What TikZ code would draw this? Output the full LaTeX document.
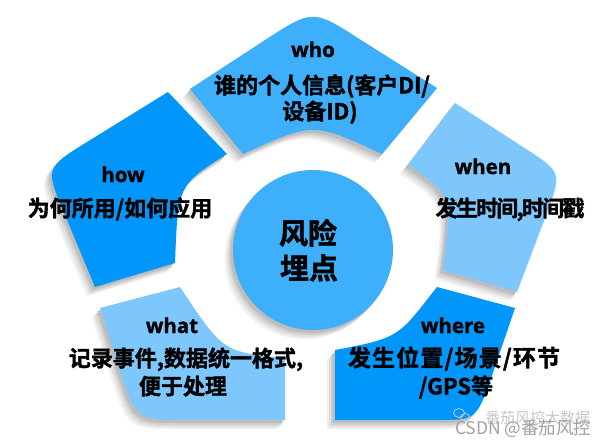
\documentclass[tikz,border=0pt]{standalone}
\usepackage{fontspec}
\setmainfont{Noto Sans CJK SC}[BoldFont={Noto Sans CJK SC Bold},BoldFeatures={FakeBold=1.6}]
\newfontfamily\titlefont{Open Sans}[BoldFont={Open Sans Bold},BoldFeatures={FakeBold=1.2}]
\definecolor{midblue}{HTML}{3DAFFB}
\definecolor{deepblue}{HTML}{0096FA}
\definecolor{paleblue}{HTML}{7EC7FC}
\definecolor{markgrey}{HTML}{A0A0A0}
\definecolor{marklight}{HTML}{C8C8C8}
\newcommand\whoshape[1]{\fill[#1] (243,154) -- (190,89) -- (265,40) .. controls (313,9) .. (361,40)
  -- (437,88) -- (382,154) .. controls (313,122) .. (243,154) -- cycle;}
\newcommand\howshape[1]{\fill[#1] (168,92) -- (87,142) .. controls (45,168) .. (65,215) -- (95,287)
  -- (175,263) .. controls (178,185) .. (227,154) -- cycle;}
\newcommand\whenshape[1]{\fill[#1] (455,103) -- (523,147) .. controls (562,172) .. (547,213) -- (517,292)
  -- (443,270) .. controls (452,195) .. (408,165) -- cycle;}
\newcommand\whatshape[1]{\fill[#1] (100,308) -- (180,287) .. controls (223,352) .. (285,358) -- (285,420)
  -- (185,420) .. controls (136,420) .. (118,365) -- cycle;}
\newcommand\whereshape[1]{\fill[#1] (437,287) -- (515,308) -- (495.6,365) .. controls (477,420) .. (440,420)
  -- (335,420) -- (335,350) .. controls (398,338) .. (437,287) -- cycle;}
\newcommand\coreshape[1]{\fill[#1] (313,250) circle[radius=80];}
\newcommand\shadowpass[2]{%
  \whoshape{#1,shift={#2}}\howshape{#1,shift={#2}}\whenshape{#1,shift={#2}}%
  \whatshape{#1,shift={#2}}\whereshape{#1,shift={#2}}\coreshape{#1,shift={#2}}}
\begin{document}
\begin{tikzpicture}[x=1pt,y=-1pt,
  ttl/.style={anchor=base,inner sep=0pt,font=\titlefont\bfseries\fontsize{20.5}{24}\selectfont},
  lbl/.style={anchor=base,inner sep=0pt,font=\bfseries\fontsize{22}{26}\selectfont},
  big/.style={anchor=base,inner sep=0pt,font=\bfseries\fontsize{29}{34}\selectfont},
  wmark/.style={anchor=base west,inner sep=0pt}]
\useasboundingbox (0,0) rectangle (608,447);
\fill[white] (0,0) rectangle (608,447);
% shadows, from the faintest outer layer to the darkest inner one
\shadowpass{black!6}{(-8pt,-9pt)}
\shadowpass{black!12}{(-6pt,-7pt)}
\shadowpass{black!19}{(-4pt,-5pt)}
\shadowpass{black!26}{(-2.5pt,-3pt)}
% segments
\whoshape{midblue}
\howshape{deepblue}
\whenshape{paleblue}
\whatshape{paleblue}
\whereshape{deepblue}
% centre
\node[circle,fill=midblue,minimum size=160pt,inner sep=0pt] (core) at (313,250) {};
\node[big] (core1) at (308,244) {风险};
\node[big] (core2) at (309,279) {埋点};
% texts
\node[ttl] (whot) at (313,57) {who};
\node[lbl] (who1) at (322,93.4) {谁的个人信息(客户DI/};
\node[lbl] (who2) at (320,119.4) {设备ID)};
\node[ttl] (howt) at (123,182) {how};
\node[lbl] (how1) at (120,216.4) {为何所用/如何应用};
\node[ttl] (whent) at (483,174) {when};
\node[lbl] (when1) at (510,216.4) {\addfontfeature{LetterSpace=-8}发生时间,时间戳};
\node[ttl] (whatt) at (172,333) {what};
\node[lbl] (what1) at (186,366.4) {记录事件,数据统一格式,};
\node[lbl] (what2) at (183,394.4) {便于处理};
\node[ttl] (wheret) at (453,333) {where};
\node[lbl,font=\bfseries\fontsize{23}{26}\selectfont] (where1) at (454,366.4) {\addfontfeature{LetterSpace=5}发生位置/场景/环节};
\node[lbl] (where2) at (456,394.4) {/GPS等};
% watermark
\draw[marklight,line width=0.8pt] (459,413) ellipse [x radius=5.5pt,y radius=4.5pt];
\draw[marklight,line width=0.8pt] (465,417) ellipse [x radius=4.5pt,y radius=3.5pt];
\node[wmark,text=marklight,font=\fontsize{15}{18}\selectfont] (wm1) at (485,423) {番茄风控大数据};
\node[wmark,text=markgrey,font=\fontsize{17.5}{20}\selectfont] (wm2) at (455,434.5) {CSDN @番茄风控};
\end{tikzpicture}
\end{document}
